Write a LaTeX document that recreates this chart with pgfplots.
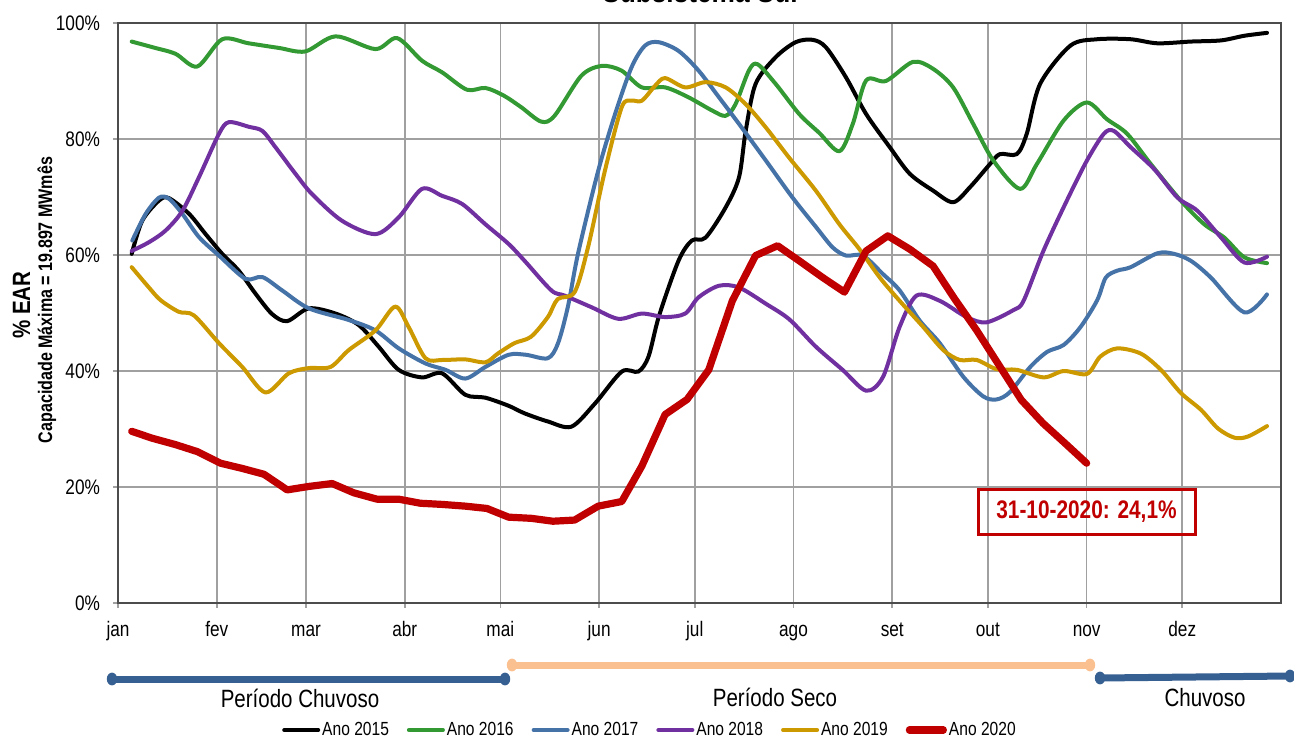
\documentclass[border=0pt]{standalone}
\usepackage{fontspec}
\setmainfont{Liberation Sans}[FakeStretch=0.82]
\usepackage{pgfplots}
\pgfplotsset{compat=1.18}
\definecolor{cBlack}{RGB}{0,0,0}
\definecolor{cGreen}{RGB}{51,153,51}
\definecolor{cBlue}{RGB}{69,114,167}
\definecolor{cPurple}{RGB}{112,48,160}
\definecolor{cGold}{RGB}{204,153,0}
\definecolor{cRed}{RGB}{192,0,0}
\definecolor{perBlue}{RGB}{55,96,146}
\definecolor{perPeach}{RGB}{250,192,144}
\definecolor{gridGray}{RGB}{160,160,160}
\begin{document}
\begin{tikzpicture}
\useasboundingbox (-59pt,-68.5pt) rectangle (588pt,301.5pt);
\begin{axis}[
  at={(0pt,0pt)}, anchor=south west,
  width=581.5pt, height=290pt, scale only axis,
  xmin=0, xmax=365, ymin=0, ymax=100,
  xtick={0,31,59,90,120,151,181,212,243,273,304,334},
  xticklabels={jan,fev,mar,abr,mai,jun,jul,ago,set,out,nov,dez},
  ytick={0,20,40,60,80,100},
  yticklabels={0\%,20\%,40\%,60\%,80\%,100\%},
  xmajorgrids, ymajorgrids,
  grid style={draw=gridGray, line width=0.8pt},
  tick align=outside, major tick length=2.5pt,
  tick style={draw=gridGray, line width=0.8pt},
  xtick pos=left, ytick pos=left,
  axis line style={draw=black!70, line width=0.6pt},
  /pgf/number format/assume math mode=true,
  ticklabel style={font=\fontsize{10.5}{12}\selectfont},
  xticklabel style={text height=7.6pt, text depth=2.2pt, yshift=-3.2pt},
  yticklabel style={xshift=-3pt},
  clip=false,
  legend columns=6,
  legend style={at={(0.4574,-0.219)}, anchor=center, draw=none, fill=none,
    font=\fontsize{9.5}{11}\selectfont,
    /tikz/every even column/.append style={column sep=8pt},
    nodes={inner sep=1pt}},
  legend image code/.code={\draw[#1, line cap=round] (0pt,0pt) -- (17pt,0pt);},
  every axis plot/.append style={line join=round, line cap=round},
]
% Ano 2015
\addplot[cBlack, line width=2pt, smooth, tension=0.5] coordinates {
(4.3,60.2) (7.6,65.9) (12.9,69.4) (16,69.8) (22.3,67.1) (27.5,63.6) (32.7,60.2) (37.9,57.3) (43.2,53.3) (48.4,49.8) (53.1,48.6) (59.9,50.8) (68.3,49.9) (75.6,47.9) (81.8,44.2) (88.1,40.2) (95.4,38.9) (101.7,39.6) (109,35.9) (115.3,35.4) (122.6,34.0) (127.6,32.7) (134.9,31.3) (142.3,30.4) (149.7,34.4) (158.1,39.9) (163.3,39.9) (166.5,42.5) (169.8,49.5) (175.9,59.0) (180.1,62.5) (184.4,63.0) (190.7,68.2) (194.9,73.4) (197,81.4) (200.1,89.5) (206.4,94.1) (212.7,96.7) (218,97.1) (222.2,95.8) (228.5,90.6) (234.8,84.3) (242.2,78.6) (248.5,74.0) (255.8,71.1) (262.1,69.1) (267.4,71.7) (273.7,75.7) (276.8,77.4) (282.1,77.4) (285.2,80.9) (289.4,89.5) (298.9,96.1) (307.3,97.2) (317.8,97.2) (326.2,96.5) (336.7,96.8) (346.2,97.0) (353.5,97.8) (360.6,98.3)
};
\addlegendentry{Ano 2015}
% Ano 2016
\addplot[cGreen, line width=2pt, smooth, tension=0.5] coordinates {
(4.3,96.8) (11,95.8) (18,94.7) (24.9,92.5) (32.7,97.2) (41,96.5) (50.5,95.7) (58.8,95.1) (68.3,97.7) (80.8,95.5) (87.6,97.4) (95.4,93.5) (101.7,91.5) (109.5,88.5) (115.3,88.8) (121,87.5) (126.5,85.5) (132.8,83.0) (137,84.0) (145.4,90.9) (151.8,92.6) (158,91.8) (164.4,88.9) (171.7,88.9) (179,87.2) (186.5,84.9) (190.7,84.0) (193.8,86.0) (198,91.8) (200.7,92.9) (206.4,89.5) (213.8,84.3) (220,81.1) (226.4,77.9) (230.6,82.6) (234.8,90.1) (241,90.0) (249.5,93.3) (255.8,92.1) (262.1,88.9) (268.4,82.6) (274.7,76.3) (283.1,71.4) (288.4,75.7) (296.8,83.2) (304.1,86.3) (310.4,83.4) (316.7,80.9) (324.1,75.7) (333.5,69.4) (340.9,65.3) (347.2,63.0) (353.5,59.6) (360.6,58.6)
};
\addlegendentry{Ano 2016}
% Ano 2017
\addplot[cBlue, line width=2pt, smooth, tension=0.5] coordinates {
(4.5,62.5) (8.7,67.1) (12.9,69.9) (16,69.7) (20.2,67.1) (25.4,63.1) (31.7,59.9) (40,55.9) (45.3,56.2) (51.5,53.9) (59.9,50.8) (72.4,48.8) (80.8,47.0) (88.1,43.9) (96.5,41.3) (102.8,40.2) (109,38.7) (115.3,40.7) (122.6,42.8) (128,42.8) (134.9,42.2) (138.1,44.8) (141.2,51.1) (144.4,60.3) (150.7,74.5) (156,84.3) (161.2,92.4) (165.4,96.1) (169.6,96.7) (175.9,95.2) (182.2,91.8) (188.6,87.2) (194.9,82.6) (203.3,76.3) (211.7,69.9) (219.1,64.8) (224.3,61.3) (228.5,59.9) (233.8,59.9) (240.1,56.7) (245.3,53.9) (251.6,48.7) (257.9,44.8) (265.3,39.0) (271.6,35.6) (275.8,35.1) (280,36.4) (286.3,40.7) (291.6,43.3) (296.8,44.5) (302.1,47.6) (307.3,52.2) (310,56.1) (313.6,57.3) (317.8,57.9) (326.2,60.3) (331.4,60.2) (336.7,59.0) (343,56.1) (353.5,50.1) (360.6,53.2)
};
\addlegendentry{Ano 2017}
% Ano 2018
\addplot[cPurple, line width=2pt, smooth, tension=0.5] coordinates {
(4.3,60.7) (9.7,62.2) (14.9,64.2) (20.2,67.6) (25.4,73.4) (31.7,80.9) (34.8,82.9) (41.1,82.1) (45.3,81.4) (49.4,78.6) (55.7,74.0) (60.9,70.5) (70.3,65.9) (80.8,63.6) (88.1,66.5) (95.4,71.4) (101.7,70.2) (108,68.8) (115.3,65.3) (122.6,61.9) (127.6,59.0) (136,53.9) (140.2,53.0) (148.6,51.0) (157,49.0) (164.4,49.9) (171.7,49.3) (178,49.9) (182.2,52.7) (188.6,54.7) (194.9,54.4) (203.3,51.6) (210.7,48.9) (219,44.2) (227.4,40.2) (234.8,36.6) (240.1,39.0) (245.3,47.6) (250.6,53.0) (257.9,52.1) (266.3,49.3) (272.6,48.4) (281,50.5) (284.2,52.1) (290.5,60.8) (297.8,69.4) (304.1,76.3) (309.4,80.9) (312.5,81.4) (317.8,78.6) (325.2,74.8) (332.5,69.9) (338.8,67.6) (346.2,63.0) (353.5,58.7) (360.6,59.7)
};
\addlegendentry{Ano 2018}
% Ano 2019
\addplot[cGold, line width=2pt, smooth, tension=0.5] coordinates {
(4.3,57.9) (9.7,54.4) (13.4,52.2) (19.1,50.2) (23.8,49.6) (31.7,44.8) (39,40.7) (46.3,36.3) (53.6,39.6) (59.9,40.5) (66.7,40.7) (72.4,43.6) (80.8,47.0) (87,51.1) (91.2,47.6) (96.5,42.2) (101.7,41.9) (109,42.0) (115.3,41.5) (119.2,43.0) (124.4,44.8) (129.6,45.9) (134.9,49.3) (138,52.4) (143.3,53.6) (147.5,61.3) (152.8,74.5) (158.1,85.5) (161.2,86.6) (164.4,86.6) (168.6,89.2) (171.7,90.5) (178,88.9) (184.4,89.8) (190.7,88.9) (197,86.0) (203.3,82.0) (210.6,76.8) (219,71.1) (226.4,65.3) (232.7,61.0) (239.1,56.1) (245.3,52.1) (252.7,47.6) (259,43.6) (264.2,41.9) (269.5,41.9) (275.8,40.3) (282.1,40.2) (290.5,38.9) (296.8,40.0) (304.1,39.5) (308.3,42.5) (313.6,43.9) (321,43.0) (327.3,40.2) (333.6,36.2) (339.9,33.3) (345.2,30.1) (350.4,28.5) (354.6,28.7) (360.6,30.5)
};
\addlegendentry{Ano 2019}
% Ano 2020
\addplot[cRed, line width=3.6pt] coordinates {
(4.3,29.6) (10.8,28.4) (18.1,27.3) (24.9,26.1) (32.2,24.1) (39,23.2) (45.8,22.2) (53.1,19.5) (59.9,20.1) (67.2,20.6) (74,19.0) (81.3,17.9) (88.1,17.9) (94.9,17.2) (101.7,17.0) (109,16.7) (115.8,16.3) (122.6,14.8) (129.7,14.6) (136.5,14.1) (143.3,14.3) (150.7,16.7) (158.1,17.5) (164.4,23.6) (171.7,32.5) (178.6,35.1) (185.4,40.2) (192.8,52.1) (200.1,59.9) (207,61.6) (213.8,59.0) (221.2,56.1) (228,53.6) (234.8,60.7) (241.6,63.3) (248.5,61.0) (255.8,58.1) (262.5,52.5) (269.5,47.0) (276.5,41.0) (283.5,35.0) (290.3,31.0) (297.5,27.4) (304,24.1)
};
\addlegendentry{Ano 2020}
\end{axis}
% title (cut by the page edge as in the source)
\node[anchor=base, font=\bfseries\fontsize{16}{18}\selectfont] at (291pt,300pt) {Subsistema Sul};
% y labels
\node[rotate=90, font=\bfseries\fontsize{12.5}{14}\selectfont] at (-48.2pt,149pt) {\% EAR};
\node[rotate=90, font=\bfseries\fontsize{9.8}{11}\selectfont] at (-35.6pt,151.5pt) {Capacidade Máxima = 19.897 MWmês};
% red annotation box
\node[draw=cRed, line width=1.5pt, minimum width=108.5pt, minimum height=22.5pt, inner sep=0pt,
  text=cRed, font=\bfseries\fontsize{12.7}{14}\selectfont] at (484.25pt,45.75pt) {31-10-2020: 24,1\%};
% season bars
\draw[perBlue, line width=3.5pt] (-3pt,-38pt) -- (193.5pt,-38pt);
\fill[perBlue] (-3pt,-38pt) ellipse (2.6pt and 3.2pt);
\fill[perBlue] (193.5pt,-38pt) ellipse (2.6pt and 3.2pt);
\draw[perPeach, line width=3.5pt] (197pt,-31pt) -- (486pt,-31pt);
\fill[perPeach] (197pt,-31pt) ellipse (2.6pt and 3.2pt);
\fill[perPeach] (486pt,-31pt) ellipse (2.6pt and 3.2pt);
\draw[perBlue, line width=3.5pt] (491pt,-37.5pt) -- (586pt,-36.5pt);
\fill[perBlue] (491pt,-37.5pt) ellipse (2.6pt and 3.2pt);
\fill[perBlue] (586pt,-36.5pt) ellipse (2.6pt and 3.2pt);
\node[font=\fontsize{12.5}{14}\selectfont] at (91pt,-47.5pt) {Período Chuvoso};
\node[font=\fontsize{12.5}{14}\selectfont] at (328.5pt,-47pt) {Período Seco};
\node[font=\fontsize{12.5}{14}\selectfont] at (543.5pt,-47.5pt) {Chuvoso};
\end{tikzpicture}
\end{document}
